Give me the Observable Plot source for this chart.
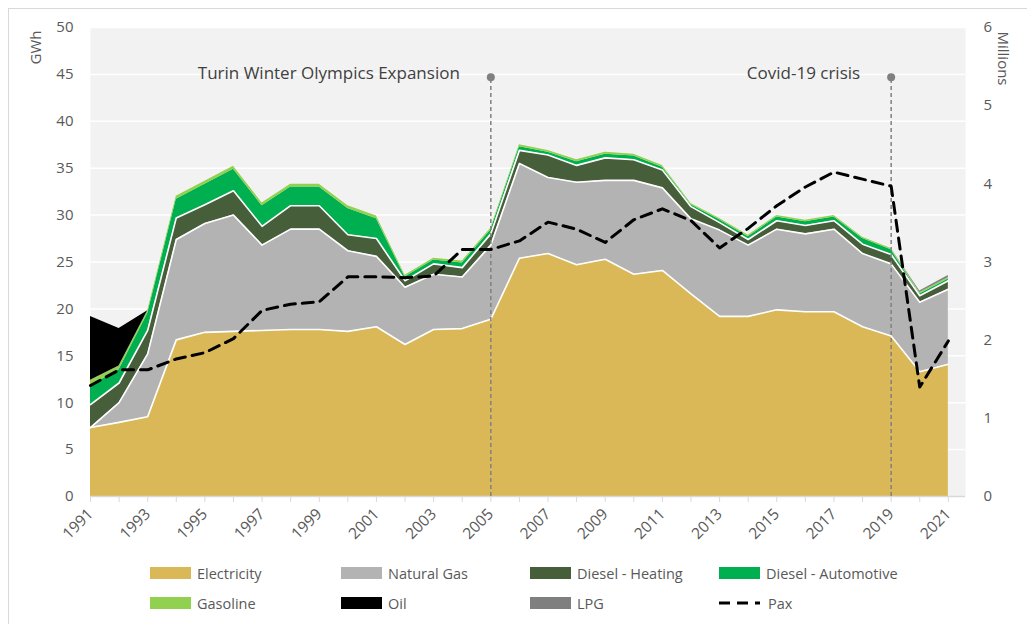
<!DOCTYPE html>
<html><head><meta charset="utf-8">
<script src="https://cdn.jsdelivr.net/npm/d3@7"></script>
<script src="https://cdn.jsdelivr.net/npm/@observablehq/plot@0.6"></script>
<style>
body{margin:0;background:#fff;font-family:"Open Sans",sans-serif;}
#wrap{position:relative;width:1027px;height:624px;overflow:hidden;}
#border{position:absolute;left:8px;top:8px;width:1100px;height:700px;border:1px solid #d9d9d9;}
#chart{position:absolute;left:0;top:0;}
#legend{position:absolute;left:0;top:0;width:1027px;height:624px;pointer-events:none;}
.item{position:absolute;display:flex;align-items:center;font-size:14.5px;color:#595959;height:20px;}
.sw{width:41px;height:12px;margin-right:6px;}
.dashsvg{margin-right:8px;}
</style></head>
<body>
<div id="wrap"><div id="border"></div><div id="chart"></div><div id="legend"></div></div>
<script>
const years = [1991,1992,1993,1994,1995,1996,1997,1998,1999,2000,2001,2002,2003,2004,2005,2006,2007,2008,2009,2010,2011,2012,2013,2014,2015,2016,2017,2018,2019,2020,2021];
const sources = ["Electricity","Natural Gas","Diesel - Heating","Diesel - Automotive","Gasoline","Oil","LPG"];
const colors = ["#dab857","#b3b3b3","#475e3a","#00b050","#92d050","#000000","#7f7f7f"];
const electricity = [7.35,7.9,8.5,16.7,17.5,17.6,17.7,17.8,17.8,17.6,18.1,16.2,17.8,17.9,18.9,25.4,25.9,24.7,25.3,23.7,24.1,21.6,19.2,19.2,19.9,19.7,19.7,18.1,17.1,13.3,14.1];
const naturalGas = [0,2.1,6.7,10.7,11.6,12.4,9.1,10.7,10.7,8.6,7.5,6.1,5.9,5.5,7.9,10.1,8.1,8.8,8.4,10.0,8.8,8.0,9.2,7.6,8.6,8.3,8.8,7.8,7.7,7.4,8.0];
const dieselHeating = [2.45,2.1,2.5,2.3,2.0,2.6,2.0,2.5,2.5,1.7,1.9,0.7,1.1,1.0,1.2,1.4,2.4,1.8,2.4,2.2,1.9,1.3,0.8,0.6,0.9,0.9,0.9,1.0,1.0,0.7,0.9];
const dieselAuto = [2.0,1.4,1.8,2.0,2.2,2.3,2.2,2.0,2.0,2.8,2.1,0.4,0.4,0.5,0.4,0.4,0.3,0.4,0.4,0.4,0.3,0.2,0.3,0.3,0.4,0.4,0.4,0.6,0.5,0.2,0.2];
const gasoline = [0.6,0.4,0.3,0.3,0.3,0.3,0.3,0.3,0.3,0.3,0.3,0.2,0.2,0.2,0.2,0.2,0.2,0.2,0.2,0.2,0.2,0.15,0.15,0.15,0.15,0.15,0.15,0.15,0.15,0.15,0.15];
const oil = [6.8,4.0,0,0,0,0,0,0,0,0,0,0,0,0,0,0,0,0,0,0,0,0,0,0,0,0,0,0,0,0,0];
const lpg = [0,0,0,0,0,0,0,0,0,0,0,0,0,0,0,0,0,0,0,0,0,0,0,0,0,0,0,0,0,0.15,0.2];
const pax = [1.42,1.62,1.62,1.76,1.84,2.02,2.38,2.46,2.49,2.81,2.81,2.80,2.82,3.16,3.16,3.27,3.51,3.42,3.25,3.54,3.68,3.53,3.18,3.43,3.72,3.96,4.15,4.06,3.97,1.40,1.99];
const leftTicks = [0,5,10,15,20,25,30,35,40,45,50];
const rightTicks = [0,1,2,3,4,5,6];
const xLabelYears = [1991,1993,1995,1997,1999,2001,2003,2005,2007,2009,2011,2013,2015,2017,2019,2021];
const eventYears = [2005,2019];
const eventLabels = ["Turin Winter Olympics Expansion","Covid-19 crisis"];
const eventTop = 44.7;
const leftMax = 50, rightMax = 6;

const seriesValues = [electricity,naturalGas,dieselHeating,dieselAuto,gasoline,oil,lpg];
const energy = years.flatMap((yr,i)=>sources.map((s,k)=>({year:yr, source:s, value:seriesValues[k][i]})));
const paxRows = years.map((yr,i)=>({year:yr, pax:pax[i]}));
const eventRows = eventYears.map((yr,i)=>({year:yr, label:eventLabels[i], top:eventTop}));
const toLeft = v => v*leftMax/rightMax;
const lined = ["Electricity","Natural Gas","Diesel - Heating"];

const chart = Plot.plot({
  width:1027, height:550,
  marginLeft:90, marginRight:62, marginTop:27, marginBottom:54,
  x:{domain:[1991,2021.6]},
  y:{domain:[0,50]},
  color:{domain:sources, range:colors},
  style:{fontFamily:"'Open Sans', sans-serif", fontSize:"15px", color:"#595959", background:"transparent"},
  marks:[
    Plot.frame({fill:"#f2f2f2", stroke:"none"}),
    Plot.gridY(leftTicks.slice(1), {stroke:"#ffffff", strokeOpacity:1, strokeWidth:1.5}),
    Plot.areaY(energy, {x:"year", y:"value", fill:"source", order:sources}),
    Plot.lineY(energy, Plot.stackY2({x:"year", y:"value", z:"source", order:sources, filter:d=>lined.includes(d.source), stroke:"#ffffff", strokeWidth:1.6})),
    Plot.ruleY([0], {stroke:"#d9d9d9", strokeWidth:1.5}),
    Plot.axisX(years, {tickSize:6, tickFormat:()=>"", stroke:"#d9d9d9", label:null}),
    Plot.axisX(xLabelYears, {tickSize:0, tickRotate:-45, tickPadding:15, tickFormat:d=>String(d), label:null, fontSize:15.5}),
    Plot.axisY(leftTicks, {anchor:"left", tickSize:0, tickPadding:17, label:null, fontSize:15}),
    Plot.axisY(rightTicks.map(toLeft), {anchor:"right", tickSize:0, tickPadding:18, label:null, fontSize:15, tickFormat:d=>String(Math.round(d*rightMax/leftMax))}),
    Plot.text(["GWh"], {frameAnchor:"top-left", textAnchor:"middle", lineAnchor:"middle", rotate:-90, dx:-54, dy:20, fontSize:15, fill:"#595959"}),
    Plot.text(["Millions"], {frameAnchor:"top-right", textAnchor:"middle", lineAnchor:"middle", rotate:90, dx:37, dy:31, fontSize:15, fill:"#595959"}),
    Plot.ruleX(eventRows, {x:"year", y1:0, y2:"top", stroke:"#808080", strokeWidth:1.5, strokeDasharray:"4,3"}),
    Plot.dot(eventRows, {x:"year", y:"top", fill:"#808080", r:4, stroke:"none"}),
    Plot.text(eventRows, {x:"year", y:"top", text:"label", textAnchor:"end", dx:-31, dy:-4, fontSize:17, fill:"#404040"}),
    Plot.line(paxRows, {x:"year", y:d=>toLeft(d.pax), stroke:"#000000", strokeWidth:3, strokeDasharray:"11,7"})
  ]
});
document.getElementById("chart").appendChild(chart);

const legendNames = [...sources, "Pax"];
const legendX = [150,341,530,719];
const legendY = [573,603];
const lg = document.getElementById("legend");
legendNames.forEach((name,i)=>{
  const d = document.createElement("div");
  d.className = "item";
  d.style.left = legendX[i%4]+"px";
  d.style.top = (legendY[Math.floor(i/4)]-10)+"px";
  if (name === "Pax") {
    const ns = "http://www.w3.org/2000/svg";
    const s = document.createElementNS(ns,"svg");
    s.setAttribute("width","41"); s.setAttribute("height","12"); s.setAttribute("class","dashsvg");
    const l = document.createElementNS(ns,"line");
    l.setAttribute("x1","0"); l.setAttribute("x2","41"); l.setAttribute("y1","6"); l.setAttribute("y2","6");
    l.setAttribute("stroke","#000"); l.setAttribute("stroke-width","3"); l.setAttribute("stroke-dasharray","11,7");
    s.appendChild(l); d.appendChild(s);
  } else {
    const sw = document.createElement("div");
    sw.className = "sw"; sw.style.background = colors[i];
    d.appendChild(sw);
  }
  const t = document.createElement("span");
  t.textContent = name;
  d.appendChild(t);
  lg.appendChild(d);
});
</script>
</body></html>
